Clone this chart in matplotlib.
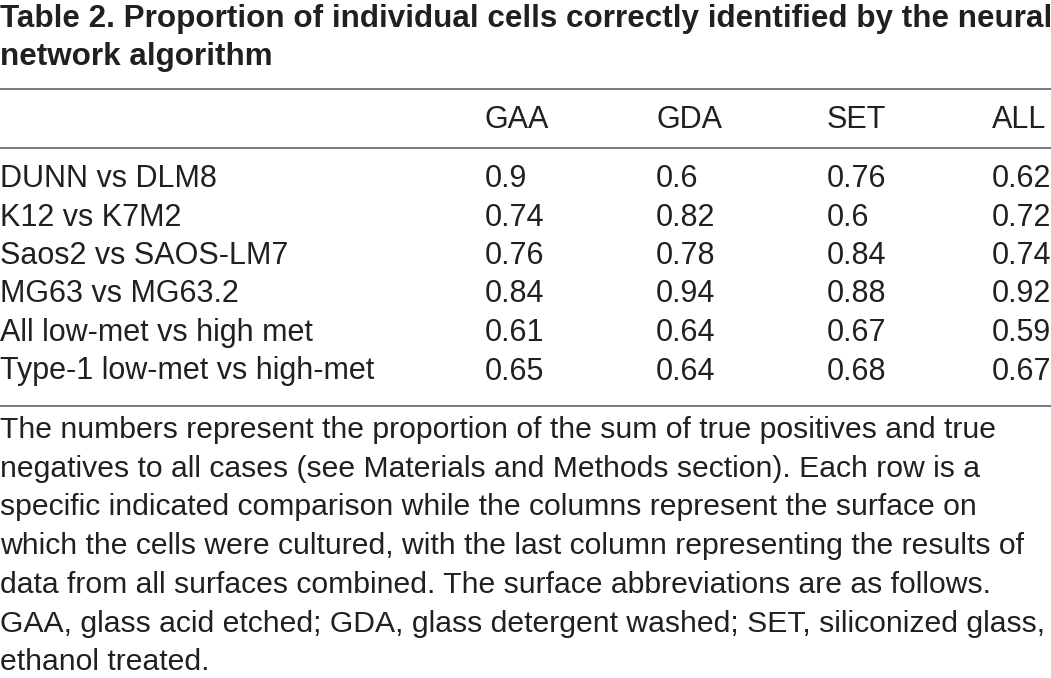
import matplotlib
matplotlib.use("Agg")
import matplotlib.pyplot as plt

title_lines = ["Table 2. Proportion of individual cells correctly identified by the neural",
               "network algorithm"]
columns = ["GAA", "GDA", "SET", "ALL"]
comparisons = ["DUNN vs DLM8", "K12 vs K7M2", "Saos2 vs SAOS-LM7", "MG63 vs MG63.2",
               "All low-met vs high met", "Type-1 low-met vs high-met"]
gaa = ["0.9", "0.74", "0.76", "0.84", "0.61", "0.65"]
gda = ["0.6", "0.82", "0.78", "0.94", "0.64", "0.64"]
set_ = ["0.76", "0.6", "0.84", "0.88", "0.67", "0.68"]
all_ = ["0.62", "0.72", "0.74", "0.92", "0.59", "0.67"]
footnote = [
    "The numbers represent the proportion of the sum of true positives and true",
    "negatives to all cases (see Materials and Methods section). Each row is a",
    "specific indicated comparison while the columns represent the surface on",
    "which the cells were cultured, with the last column representing the results of",
    "data from all surfaces combined. The surface abbreviations are as follows.",
    "GAA, glass acid etched; GDA, glass detergent washed; SET, siliconized glass,",
    "ethanol treated.",
]

W, H = 1051, 678
fig = plt.figure(figsize=(W / 100, H / 100), dpi=100)
ax = fig.add_axes([0, 0, 1, 1])
ax.set_xlim(0, W)
ax.set_ylim(H, 0)
ax.axis("off")

txt = "#231f20"
fam = ["Liberation Sans", "DejaVu Sans"]
fs_body = 22.0
fs_foot = 21.7
fs_title = 22.6

for i, line in enumerate(title_lines):
    ax.text(0, 27 + 38 * i, line, fontsize=fs_title, fontweight="bold",
            family=fam, color=txt, va="baseline", ha="left")

rule_c = "#6d6e71"
for y in (89, 148, 406):
    ax.plot([0, W], [y, y], color=rule_c, lw=1.3, solid_capstyle="butt")

col_x = [485, 656, 827, 992]
for x, c in zip(col_x, columns):
    ax.text(x, 128, c, fontsize=fs_body, family=fam, color=txt, va="baseline", ha="left")

data_cols = [gaa, gda, set_, all_]
for r, name in enumerate(comparisons):
    y = 187 + 38.5 * r
    ax.text(0, y, name, fontsize=fs_body, family=fam, color=txt, va="baseline", ha="left")
    for x, col in zip(col_x, data_cols):
        ax.text(x, y, col[r], fontsize=fs_body, family=fam, color=txt, va="baseline", ha="left")

for i, line in enumerate(footnote):
    ax.text(0, 438 + 38.7 * i, line, fontsize=fs_foot, family=fam, color=txt,
            va="baseline", ha="left")

fig.savefig("out.png", dpi=100)
